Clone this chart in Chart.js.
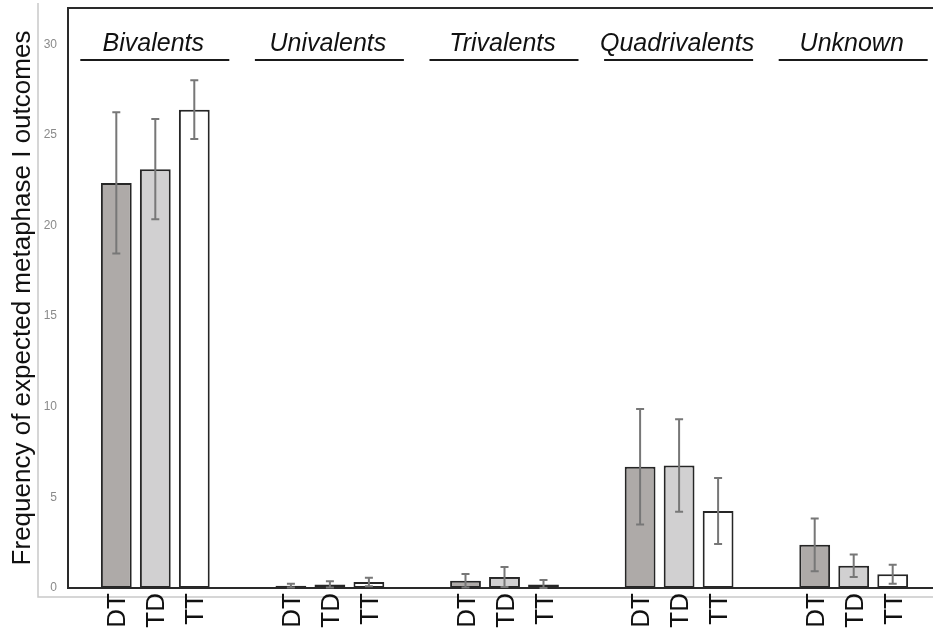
<!DOCTYPE html>
<html>
<head>
<meta charset="utf-8">
<script src="https://cdn.jsdelivr.net/npm/chart.js@4/dist/chart.umd.min.js"></script>
<style>
  html, body { margin: 0; padding: 0; background: #fff; overflow: hidden; }
  #wrap { width: 933px; height: 633px; overflow: hidden; }
</style>
</head>
<body>
<div id="wrap"><canvas id="chart" width="945" height="633"></canvas></div>
<script>
// Groups along the x axis
const categories = ['Bivalents', 'Univalents', 'Trivalents', 'Quadrivalents', 'Unknown'];
const seriesNames = ['DT', 'TD', 'TT'];

// Mean frequencies per group
const dtValues = [22.35, 0.13, 0.40, 6.69, 2.38];
const tdValues = [23.11, 0.20, 0.61, 6.76, 1.23];
const ttValues = [26.39, 0.33, 0.20, 4.25, 0.76];

// Error bar half-lengths
const dtErrors = [3.90, 0.10, 0.37, 3.18, 1.46];
const tdErrors = [2.76, 0.17, 0.55, 2.55, 0.62];
const ttErrors = [1.62, 0.24, 0.24, 1.82, 0.52];

const yTicks = [0, 5, 10, 15, 20, 25, 30];

const errors = [dtErrors, tdErrors, ttErrors];

// error bars, bar labels, group headers and the frame
const decorations = {
    id: 'decorations',
    afterDatasetsDraw(chart) {
        const ctx = chart.ctx;
        const area = chart.chartArea;
        const y = chart.scales.y;
        const x = chart.scales.x;
        ctx.save();

        // light gray outer axis lines
        ctx.strokeStyle = '#c9c9c9';
        ctx.lineWidth = 1.5;
        ctx.beginPath();
        ctx.moveTo(38, 3);
        ctx.lineTo(38, area.bottom + 9);
        ctx.lineTo(chart.width, area.bottom + 9);
        ctx.stroke();

        // black frame (open on the right)
        ctx.strokeStyle = '#2a2a2a';
        ctx.lineWidth = 2;
        ctx.beginPath();
        ctx.moveTo(chart.width, area.top);
        ctx.lineTo(area.left, area.top);
        ctx.lineTo(area.left, area.bottom);
        ctx.lineTo(chart.width, area.bottom);
        ctx.stroke();

        // error bars
        ctx.strokeStyle = '#777777';
        ctx.lineWidth = 2;
        chart.data.datasets.forEach((ds, i) => {
            const meta = chart.getDatasetMeta(i);
            meta.data.forEach((bar, j) => {
                const v = ds.data[j];
                const e = errors[i][j];
                const top = y.getPixelForValue(v + e);
                const bot = y.getPixelForValue(Math.max(v - e, 0));
                ctx.beginPath();
                ctx.moveTo(bar.x, top);
                ctx.lineTo(bar.x, bot);
                ctx.moveTo(bar.x - 4, top);
                ctx.lineTo(bar.x + 4, top);
                ctx.moveTo(bar.x - 4, bot);
                ctx.lineTo(bar.x + 4, bot);
                ctx.stroke();
            });
        });

        // rotated bar labels under the baseline
        ctx.fillStyle = '#111';
        ctx.font = '26px "Liberation Sans", Arial, sans-serif';
        ctx.textAlign = 'right';
        ctx.textBaseline = 'middle';
        chart.data.datasets.forEach((ds, i) => {
            const meta = chart.getDatasetMeta(i);
            meta.data.forEach((bar) => {
                ctx.save();
                ctx.translate(bar.x + 2, area.bottom + 5);
                ctx.rotate(-Math.PI / 2);
                ctx.fillText(ds.label, 0, 0);
                ctx.restore();
            });
        });

        // group headers with underline
        ctx.font = 'italic 25px "Liberation Sans", Arial, sans-serif';
        ctx.textAlign = 'center';
        ctx.textBaseline = 'alphabetic';
        ctx.strokeStyle = '#1a1a1a';
        ctx.lineWidth = 2;
        categories.forEach((name, j) => {
            const cx = x.getPixelForValue(j);
            ctx.fillText(name, cx - 2, 51);
            ctx.beginPath();
            ctx.moveTo(cx - 75, 60);
            ctx.lineTo(cx + 74, 60);
            ctx.stroke();
        });

        ctx.restore();
    }
};

const barStyle = {
    borderColor: '#262626',
    borderWidth: 2,
    borderSkipped: false,
    categoryPercentage: 0.67,
    barPercentage: 0.79
};

new Chart(document.getElementById('chart'), {
    type: 'bar',
    data: {
        labels: categories,
        datasets: [
            Object.assign({ label: seriesNames[0], data: dtValues, backgroundColor: '#aeaaa8' }, barStyle),
            Object.assign({ label: seriesNames[1], data: tdValues, backgroundColor: '#d1d0d1' }, barStyle),
            Object.assign({ label: seriesNames[2], data: ttValues, backgroundColor: '#ffffff' }, barStyle)
        ]
    },
    options: {
        responsive: false,
        animation: false,
        layout: { padding: { top: 8, right: 4, bottom: 45, left: 0 } },
        plugins: {
            legend: { display: false },
            tooltip: { enabled: false }
        },
        scales: {
            x: {
                display: false
            },
            y: {
                min: 0,
                max: 32,
                afterBuildTicks: (scale) => {
                    scale.ticks = yTicks.map(v => ({ value: v }));
                },
                afterFit: (scale) => {
                    scale.width = 68;
                    scale.paddingTop = 0;
                    scale.paddingBottom = 0;
                },
                grid: { display: false, drawTicks: false },
                border: { display: false },
                ticks: {
                    padding: 11,
                    color: '#8a8a8a',
                    font: { family: '"Liberation Sans", Arial, sans-serif', size: 12 }
                },
                title: {
                    display: true,
                    text: 'Frequency of expected metaphase I outcomes',
                    color: '#111',
                    padding: { top: 7, bottom: 0 },
                    font: { family: '"Liberation Sans", Arial, sans-serif', size: 26 }
                }
            }
        }
    },
    plugins: [decorations]
});
</script>
</body>
</html>
